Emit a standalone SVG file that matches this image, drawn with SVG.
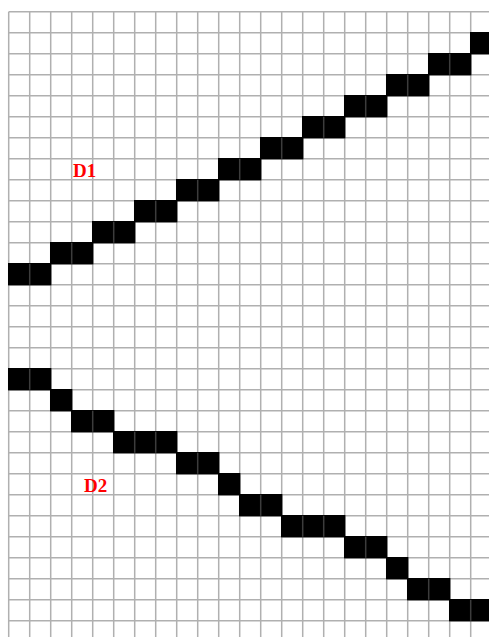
<svg xmlns="http://www.w3.org/2000/svg" width="489" height="637" viewBox="0 0 489 637">
<defs>
<style>
.grid{stroke:#b0b0b0;stroke-width:1.5;fill:none}
.cell{fill:#000}
.div{stroke:#3c3c3c;stroke-width:1.5}
.lbl{font-family:"Liberation Serif","Times New Roman",serif;font-weight:bold;font-size:19px;fill:#ff0000}
</style>
</defs>
<rect x="0" y="0" width="489" height="637" fill="#fff"/>
<g id="grid" class="grid">
<path d="M8.7 11.7V637M29.7 11.7V637M50.7 11.7V637M71.7 11.7V637M92.7 11.7V637M113.7 11.7V637M134.7 11.7V637M155.7 11.7V637M176.7 11.7V637M197.7 11.7V637M218.7 11.7V637M239.7 11.7V637M260.7 11.7V637M281.7 11.7V637M302.7 11.7V637M323.7 11.7V637M344.7 11.7V637M365.7 11.7V637M386.7 11.7V637M407.7 11.7V637M428.7 11.7V637M449.7 11.7V637M470.7 11.7V637"/>
<path d="M8.7 11.7H489M8.7 32.7H489M8.7 53.7H489M8.7 74.7H489M8.7 95.7H489M8.7 116.7H489M8.7 137.7H489M8.7 158.7H489M8.7 179.7H489M8.7 200.7H489M8.7 221.7H489M8.7 242.7H489M8.7 263.7H489M8.7 284.7H489M8.7 305.7H489M8.7 326.7H489M8.7 347.7H489M8.7 368.7H489M8.7 389.7H489M8.7 410.7H489M8.7 431.7H489M8.7 452.7H489M8.7 473.7H489M8.7 494.7H489M8.7 515.7H489M8.7 536.7H489M8.7 557.7H489M8.7 578.7H489M8.7 599.7H489M8.7 620.7H489"/>
</g>
<g id="line-D1">
<g class="cell">
<rect x="8" y="263" width="43.4" height="22.4"/>
<rect x="50" y="242" width="43.4" height="22.4"/>
<rect x="92" y="221" width="43.4" height="22.4"/>
<rect x="134" y="200" width="43.4" height="22.4"/>
<rect x="176" y="179" width="43.4" height="22.4"/>
<rect x="218" y="158" width="43.4" height="22.4"/>
<rect x="260" y="137" width="43.4" height="22.4"/>
<rect x="302" y="116" width="43.4" height="22.4"/>
<rect x="344" y="95" width="43.4" height="22.4"/>
<rect x="386" y="74" width="43.4" height="22.4"/>
<rect x="428" y="53" width="43.4" height="22.4"/>
<rect x="470" y="32" width="19" height="22.4"/>
</g>
<path class="div" d="M29.7 263.7v21M71.7 242.7v21M113.7 221.7v21M155.7 200.7v21M197.7 179.7v21M239.7 158.7v21M281.7 137.7v21M323.7 116.7v21M365.7 95.7v21M407.7 74.7v21M449.7 53.7v21"/>
<text class="lbl" x="73" y="177">D1</text>
</g>
<g id="line-D2">
<g class="cell">
<rect x="8" y="368" width="43.4" height="22.4"/>
<rect x="50" y="389" width="22.4" height="22.4"/>
<rect x="71" y="410" width="43.4" height="22.4"/>
<rect x="113" y="431" width="64.4" height="22.4"/>
<rect x="176" y="452" width="43.4" height="22.4"/>
<rect x="218" y="473" width="22.4" height="22.4"/>
<rect x="239" y="494" width="43.4" height="22.4"/>
<rect x="281" y="515" width="64.4" height="22.4"/>
<rect x="344" y="536" width="43.4" height="22.4"/>
<rect x="386" y="557" width="22.4" height="22.4"/>
<rect x="407" y="578" width="43.4" height="22.4"/>
<rect x="449" y="599" width="40" height="22.4"/>
</g>
<path class="div" d="M29.7 368.7v21M92.7 410.7v21M134.7 431.7v21M155.7 431.7v21M197.7 452.7v21M260.7 494.7v21M302.7 515.7v21M323.7 515.7v21M365.7 536.7v21M428.7 578.7v21M470.7 599.7v21"/>
<text class="lbl" x="84" y="492">D2</text>
</g>
</svg>
